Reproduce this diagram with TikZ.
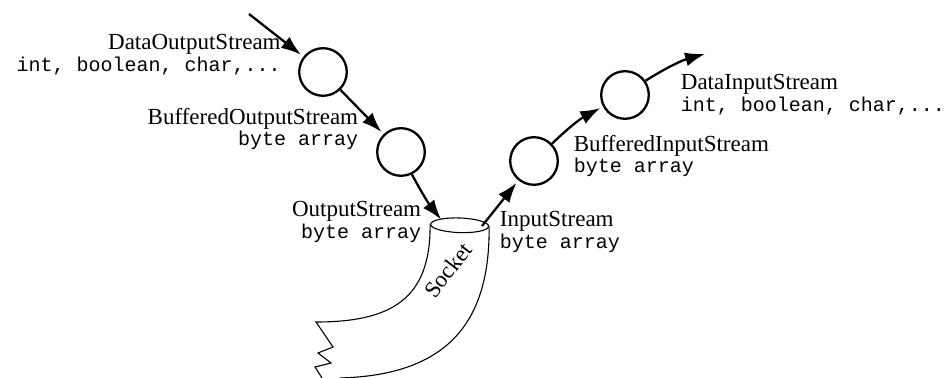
\documentclass[tikz,border=0pt]{standalone}
\usepackage{fontspec}
\setmainfont{Liberation Serif}
\setmonofont{Liberation Mono}
\usetikzlibrary{arrows.meta,shapes.geometric}
\newcommand\jtype[1]{{\ttfamily\fontsize{10}{9}\selectfont #1}}
\begin{document}
\begin{tikzpicture}[x=0.5pt, y=-0.5pt, >={Latex[length=10pt,width=7pt]},
  stream/.style={draw, circle, line width=1.15pt, minimum size=23.8pt, inner sep=0pt},
  flow/.style={->, line width=1.15pt, shorten >=1.5pt},
  tube/.style={line width=0.55pt},
  classname/.style={inner sep=0pt, font=\fontsize{11.5}{9.2}\selectfont}]
\useasboundingbox (0,0) rectangle (948,378);

% the streams
\node[stream] (dos) at (323,72) {};
\node[stream] (bos) at (401,152) {};
\node[stream] (bis) at (534,161) {};
\node[stream] (dis) at (625,95) {};

% names
\node[classname, anchor=north east, align=right] (dosl) at (281,34)
  {DataOutputStream\\\jtype{int, boolean, char,...}};
\node[classname, anchor=north east, align=right] (bosl) at (358.5,108)
  {BufferedOutputStream\\\jtype{byte array}};
\node[classname, anchor=north east, align=right] (osl) at (421.5,201)
  {OutputStream\\\jtype{byte array}};
\node[classname, anchor=north west, align=left] (isl) at (499.5,211)
  {InputStream\\\jtype{byte array}};
\node[classname, anchor=north west, align=left] (bisl) at (573.5,135)
  {BufferedInputStream\\\jtype{byte array}};
\node[classname, anchor=north west, align=left] (disl) at (680.5,74)
  {DataInputStream\\\jtype{int, boolean, char,...}};

% socket
\node[draw, ellipse, tube, minimum width=29pt, minimum height=7.3pt, inner sep=0pt, rotate=-2] (sock) at (459.6,225.3) {};
\draw[tube] (sock.west) .. controls (431,300) and (390,322) .. (316,322)
  -- (333,347) -- (318,353) -- (331,363) -- (315,367) -- (322,378);
\draw[tube] (sock.east) .. controls (490,320) and (450,375) .. (340,378);
\node[classname, rotate=52.5] (socktext) at (448,270) {Socket};

% flow
\coordinate (src) at (249,14);
\coordinate (sin) at (443,222);
\coordinate (sout) at (482,226);
\coordinate (sink) at (708,53);
\draw[flow] (src) -- (dos);
\draw[flow] (dos) -- (bos);
\draw[flow] (bos) to[bend right=5] (sin);
\draw[flow] (sout) -- (bis);
\draw[flow] (bis) to[bend left=8] (dis);
\draw[flow] (dis) to[bend left=8] (sink);
\end{tikzpicture}
\end{document}
